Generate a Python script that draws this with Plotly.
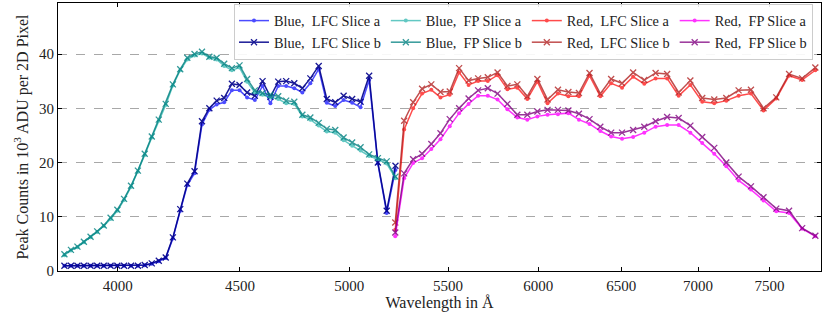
import plotly.graph_objects as go
import math

# ---------------- data ----------------
blue_wl = [3799, 3823, 3847, 3871, 3896, 3921, 3946, 3972, 3998, 4024, 4051, 4078,
           4105, 4133, 4161, 4189, 4218, 4248, 4277, 4307, 4338, 4369, 4400, 4432,
           4465, 4498, 4531, 4565, 4599, 4634, 4669, 4705, 4742, 4779, 4816, 4855,
           4893, 4933, 4973, 5014, 5055, 5097, 5140, 5184, 5228]

blue_lfc_a = [0.95, 0.95, 0.95, 0.95, 0.95, 0.95, 0.95, 0.95, 0.95, 0.95, 0.95, 0.95,
              1.05, 1.35, 1.8, 2.4, 6.0, 11.1, 15.8, 18.0, 27.0, 29.7, 30.7, 31.1,
              33.3, 33.3, 32.0, 31.5, 34.1, 30.9, 34.1, 34.1, 33.7, 32.9, 34.6, 37.2,
              31.0, 30.4, 31.5, 31.0, 30.2, 35.2, 19.8, 10.7, 18.6]
blue_lfc_b = [0.98, 0.98, 0.98, 0.98, 0.98, 0.98, 0.98, 0.98, 0.98, 0.98, 0.98, 0.98,
              1.1, 1.4, 1.9, 2.5, 6.2, 11.4, 16.1, 18.4, 27.6, 30.0, 31.4, 31.9,
              34.5, 34.3, 32.9, 32.3, 35.0, 32.1, 34.9, 35.0, 34.6, 33.7, 35.5, 37.8,
              31.7, 31.1, 32.3, 31.7, 31.2, 36.0, 20.0, 11.1, 19.4]
blue_fp_a = [2.9, 3.8, 4.4, 5.3, 6.2, 7.2, 8.3, 9.6, 11.1, 13.1, 15.5, 18.3,
             21.4, 24.6, 27.7, 30.6, 34.2, 37.0, 39.0, 39.7, 40.1, 39.3, 39.0, 37.8,
             37.0, 37.5, 34.9, 32.9, 32.5, 32.0, 31.7, 30.9, 30.8, 28.5, 27.9, 26.8,
             25.7, 25.5, 24.1, 23.1, 22.2, 21.2, 20.6, 19.8, 17.1]
blue_fp_b = [3.1, 3.9, 4.5, 5.4, 6.3, 7.3, 8.4, 9.8, 11.3, 13.3, 15.7, 18.5,
             21.6, 24.8, 27.9, 30.8, 34.4, 37.2, 39.3, 40.0, 40.4, 39.5, 39.3, 38.2,
             37.4, 37.9, 35.4, 33.3, 32.8, 32.5, 32.2, 31.4, 31.2, 28.8, 28.3, 27.3,
             26.2, 26.0, 24.6, 23.7, 22.8, 21.5, 20.8, 20.2, 17.4]

red_wl = [5227, 5272, 5318, 5364, 5412, 5460, 5509, 5559, 5610, 5662, 5715, 5769,
          5824, 5880, 5937, 5995, 6054, 6115, 6177, 6240, 6304, 6370, 6437, 6505,
          6575, 6646, 6719, 6794, 6870, 6948, 7028, 7110, 7193, 7279, 7366, 7456,
          7548, 7642, 7739, 7838]

red_lfc_a = [7.6, 26.1, 30.0, 32.7, 33.4, 32.0, 32.5, 36.6, 34.3, 35.0, 35.0, 36.1,
             33.5, 33.8, 31.7, 34.9, 30.9, 32.7, 32.2, 32.2, 36.0, 32.2, 34.6, 33.8,
             35.8, 34.5, 35.5, 35.5, 32.3, 34.3, 31.2, 30.9, 31.4, 32.3, 32.7, 29.6,
             31.8, 36.0, 35.2, 37.0]
red_lfc_b = [8.95, 27.7, 31.1, 33.6, 34.4, 33.0, 33.1, 37.4, 35.1, 35.5, 35.7, 36.6,
             34.1, 34.4, 32.2, 35.4, 31.6, 33.4, 33.0, 32.8, 36.5, 32.7, 35.4, 34.6,
             36.6, 35.2, 36.5, 36.3, 32.9, 35.1, 31.9, 31.6, 31.9, 33.3, 33.4, 30.0,
             32.0, 36.3, 35.5, 37.5]
red_fp_a = [6.4, 17.1, 19.9, 20.8, 22.5, 24.3, 26.7, 29.1, 30.8, 32.3, 32.3, 31.6,
            29.8, 28.3, 27.9, 28.5, 28.8, 28.9, 29.1, 27.9, 27.1, 25.8, 24.8, 24.4,
            24.7, 25.5, 26.6, 26.9, 26.9, 25.5, 23.6, 21.6, 19.3, 16.7, 15.0, 13.0,
            11.0, 10.7, 7.8, 6.4]
red_fp_b = [7.1, 18.0, 20.6, 21.6, 23.4, 25.4, 28.0, 30.0, 31.8, 33.3, 33.7, 32.7,
            30.8, 28.8, 28.8, 29.4, 29.7, 29.7, 29.6, 29.0, 28.0, 26.6, 25.5, 25.5,
            26.0, 26.6, 27.6, 28.4, 28.2, 26.8, 24.7, 22.7, 20.0, 17.4, 15.6, 13.6,
            11.5, 11.1, 7.9, 6.5]

x_ticks = [4000, 4500, 5000, 5500, 6000, 6500, 7000, 7500]
y_ticks = [0, 10, 20, 30, 40]

FONT = "Liberation Serif, Times New Roman, DejaVu Serif, serif"

series = [
    # name, x, y, color, opacity, marker, legend column group
    ("Blue,\u00a0 LFC Slice a", blue_wl, blue_lfc_a, "blue", 0.7, "dot", "g1"),
    ("Blue,\u00a0 LFC Slice b", blue_wl, blue_lfc_b, "darkblue", 0.9, "x", "g1"),
    ("Blue,\u00a0 FP Slice a", blue_wl, blue_fp_a, "lightseagreen", 0.7, "dot", "g2"),
    ("Blue,\u00a0 FP Slice b", blue_wl, blue_fp_b, "teal", 0.8, "x", "g2"),
    ("Red,\u00a0 LFC Slice a", red_wl, red_lfc_a, "red", 0.7, "dot", "g3"),
    ("Red,\u00a0 LFC Slice b", red_wl, red_lfc_b, "firebrick", 0.8, "x", "g3"),
    ("Red,\u00a0 FP Slice a", red_wl, red_fp_a, "magenta", 0.8, "dot", "g4"),
    ("Red,\u00a0 FP Slice b", red_wl, red_fp_b, "purple", 0.8, "x", "g4"),
]

fig = go.Figure()
for name, xs, ys, col, op, mk, grp in series:
    if mk == "dot":
        marker = dict(symbol="circle", size=4, color=col, line=dict(width=0))
    else:
        marker = dict(symbol="x-thin", size=6, color=col, line=dict(width=1.3, color=col))
    fig.add_trace(go.Scatter(
        x=xs, y=ys, name=name, mode="lines+markers",
        line=dict(color=col, width=1.5), marker=marker,
        opacity=op, legendgroup=grp,
    ))

fig.update_layout(
    width=830, height=312,
    margin=dict(l=58, r=9, t=3, b=41, autoexpand=False),
    plot_bgcolor="white", paper_bgcolor="white",
    font=dict(family=FONT, size=15, color="#222"),
    legend=dict(
        orientation="h", traceorder="grouped",
        x=0.9895, xanchor="right", y=0.997, yanchor="top",
        bgcolor="rgba(255,255,255,0.9)", bordercolor="#cccccc", borderwidth=1,
        font=dict(family=FONT, size=14.3, color="#222"),
        tracegroupgap=20, itemclick=False, itemdoubleclick=False,
    ),
    showlegend=True,
)

fig.update_xaxes(
    type="log", automargin=False,
    range=[math.log10(3775.6), math.log10(7881)],
    tickvals=x_ticks, ticktext=[str(v) for v in x_ticks],
    ticks="inside", ticklen=4, tickcolor="black",
    showline=True, linecolor="black", linewidth=1, mirror="ticks",
    showgrid=False, zeroline=False,
    ticklabelstandoff=1,
    title=dict(text="Wavelength in Å", font=dict(family=FONT, size=16), standoff=2),
)
fig.update_yaxes(
    range=[0, 49.4], automargin=False,
    tickvals=y_ticks, ticktext=[str(v) for v in y_ticks],
    ticks="inside", ticklen=4, tickcolor="black",
    showline=True, linecolor="black", linewidth=1, mirror="ticks",
    showgrid=True, gridcolor="#a8a8a8", griddash="dash", gridwidth=1,
    zeroline=False,
    ticklabelstandoff=0,
    title=dict(text="Peak Counts in 10<sup>3</sup> ADU per 2D Pixel",
               font=dict(family=FONT, size=16), standoff=6),
)

fig.write_html("out.html",
               config={"displayModeBar": False},
               post_script="document.body.style.margin='0';document.body.style.overflow='hidden';")
